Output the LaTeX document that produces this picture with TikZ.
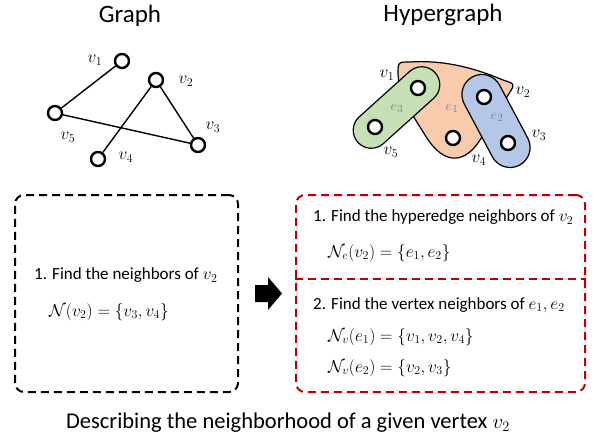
\documentclass[tikz,border=0pt]{standalone}
\usepackage{fontspec}
\setmainfont{Carlito}
\usetikzlibrary{positioning}
\definecolor{eone}{HTML}{F8CBAD}
\definecolor{etwo}{HTML}{B4C7E7}
\definecolor{ethree}{HTML}{C5E0B4}
\definecolor{boxred}{HTML}{C00000}

\begin{document}
\begin{tikzpicture}[x=1pt,y=-1pt]
    \tikzset{vert/.style= {draw, circle
    , line width=2.4pt
    , minimum size=14pt
    , inner sep=0pt
    , fill=white
      }
    , vlabel/.style={font=\fontsize{18}{20}\selectfont, inner sep=0pt}
    , elabel/.style={font=\fontsize{15}{17}\selectfont, text=black!50, inner sep=0pt}
    , hedge/.style={draw, line width=1.2pt}
    , title/.style={font=\fontsize{25}{29}\selectfont}
    , stepbox/.style={draw, dash pattern=on 8pt off 5pt, line width=2pt
    , rounded corners=9pt, minimum width=223pt, minimum height=197pt}
    , txt/.style={font=\fontsize{17}{20}\selectfont, anchor=west, inner sep=0pt}
    }
\useasboundingbox (0,0) rectangle (595,445);

% graph
\node [title] (tgraph) at (130,16) {Graph};
\node [vert] (g1) at (122,61) {};
\node [vert] (g2) at (156,80) {};
\node [vert] (g3) at (198,145) {};
\node [vert] (g4) at (98,159) {};
\node [vert] (g5) at (55,113) {};
\node [vlabel] (lg1) at (95,60) {$v_1$};
\node [vlabel] (lg2) at (186,81) {$v_2$};
\node [vlabel] (lg3) at (213,127) {$v_3$};
\node [vlabel] (lg4) at (126,157) {$v_4$};
\node [vlabel] (lg5) at (68,137) {$v_5$};

 \path[draw, line width=1.4pt]
  (g1) -- (g5) -- (g3) -- (g2) -- (g4);

% hypergraph
\node [title] (thyper) at (443,15) {Hypergraph};
\draw [hedge, fill=eone]
  (400,95) -- (425,135) .. controls (445,168) and (466,162) .. (480,140)
  -- (510,92)
  .. controls (515,84) .. (503,80) .. controls (470,66) and (440,60) .. (410,62)
  .. controls (398,62) .. (398,74) -- cycle;
\node [hedge, fill=ethree, rectangle, rounded corners=18pt, rotate=42
  , minimum width=104pt, minimum height=36pt] (e3) at (396.5,107.5) {};
\node [hedge, fill=etwo, rectangle, rounded corners=20pt, rotate=-62
  , minimum width=100pt, minimum height=40pt] (e2) at (496,121) {};
\node [vert] (h1) at (418,88) {};
\node [vert] (h2) at (484,97) {};
\node [vert] (h3) at (508,143) {};
\node [vert] (h4) at (453,138) {};
\node [vert] (h5) at (375,127) {};
\node [vlabel] (lh1) at (387,75) {$v_1$};
\node [vlabel] (lh2) at (523,92) {$v_2$};
\node [vlabel] (lh3) at (539,135) {$v_3$};
\node [vlabel] (lh4) at (479,160) {$v_4$};
\node [vlabel] (lh5) at (391,152) {$v_5$};
\node [elabel] (le1) at (452,108) {$e_1$};
\node [elabel] (le2) at (497,117) {$e_2$};
\node [elabel] (le3) at (397,108) {$e_3$};

% neighborhood boxes
\node [stepbox] (lbox) at (126.5,293.5) {};
\node [stepbox, draw=boxred, minimum width=289pt] (rbox) at (440.5,293.5) {};
\coordinate (div) at (0,279);
\draw [boxred, dash pattern=on 8pt off 5pt, line width=2pt]
  (rbox.west |- div) -- (rbox.east |- div);

\node [txt] (s1) at (34,275) {1. Find the neighbors of $v_2$};
\node [txt] (f1) at (49,312) {$\mathcal{N}(v_2)=\{v_3,v_4\}$};

% block arrow
\fill (255,285) -- (268,285) -- (268,277) -- (282,293.5) -- (268,310)
  -- (268,302) -- (255,302) -- cycle;

\node [txt] (r1) at (313,217) {1. Find the hyperedge neighbors of $v_2$};
\node [txt] (rf1) at (328,253) {$\mathcal{N}_e(v_2)=\{e_1,e_2\}$};
\node [txt] (r2) at (313,305) {2. Find the vertex neighbors of $e_1,e_2$};
\node [txt] (rf2) at (328,337) {$\mathcal{N}_v(e_1)=\{v_1,v_2,v_4\}$};
\node [txt] (rf3) at (328,368) {$\mathcal{N}_v(e_2)=\{v_2,v_3\}$};

\node [font=\fontsize{22.5}{26}\selectfont] (cap) at (288,423)
  {Describing the neighborhood of a given vertex $v_2$};
\end{tikzpicture}
\end{document}
